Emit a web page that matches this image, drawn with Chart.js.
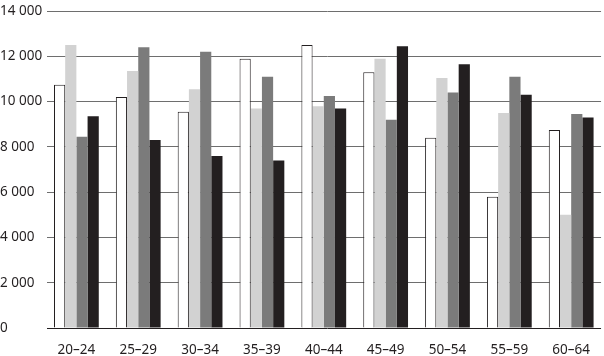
<!DOCTYPE html>
<html>
<head>
<meta charset="utf-8">
<script src="https://cdn.jsdelivr.net/npm/chart.js@4/dist/chart.umd.min.js"></script>
<style>
  html, body { margin: 0; padding: 0; background: #fff; }
  #wrap { width: 604px; height: 356px; position: relative; }
</style>
</head>
<body>
<div id="wrap"><canvas id="c"></canvas></div>
<script>
// Categories (age groups)
const categories = ['20–24', '25–29', '30–34', '35–39', '40–44', '45–49', '50–54', '55–59', '60–64'];

// Series values
const series1 = [10750, 10200, 9550, 11900, 12500, 11300, 8400, 5800, 8750];   // white
const series2 = [12500, 11350, 10550, 9700, 9800, 11900, 11050, 9500, 5000];  // light grey
const series3 = [8450, 12400, 12200, 11100, 10250, 9200, 10400, 11100, 9450]; // mid grey
const series4 = [9350, 8300, 7600, 7400, 9700, 12450, 11650, 10300, 9300];    // black

// Y tick labels
const yTickValues = [0, 2000, 4000, 6000, 8000, 10000, 12000, 14000];
const yTickLabels = ['0', '2 000', '4 000', '6 000', '8 000', '10 000', '12 000', '14 000'];

const FONT = "'Noto Sans', 'DejaVu Sans', sans-serif";

function pts(arr) { return arr.map((v, i) => ({ x: i, y: v })); }

const ds = [
  { data: pts(series1), backgroundColor: '#ffffff', borderColor: '#231f20', borderWidth: 1 },
  { data: pts(series2), backgroundColor: '#d2d2d2', borderWidth: 0 },
  { data: pts(series3), backgroundColor: '#7b7b7b', borderWidth: 0 },
  { data: pts(series4), backgroundColor: '#231f20', borderWidth: 0 }
].map(d => Object.assign({ categoryPercentage: 0.724, barPercentage: 1.0, borderSkipped: 'start' }, d));

new Chart(document.getElementById('c'), {
  type: 'bar',
  data: { datasets: ds },
  options: {
    responsive: true,
    maintainAspectRatio: false,
    animation: false,
    layout: { padding: { left: 0, right: 0, top: 6, bottom: 0 } },
    plugins: { legend: { display: false }, tooltip: { enabled: false } },
    scales: {
      x: {
        type: 'linear',
        offset: false,
        min: -0.362,
        max: 8.483,
        grid: { display: false, drawTicks: false },
        border: { display: false },
        ticks: {
          stepSize: 1,
          includeBounds: false,
          autoSkip: false,
          maxRotation: 0,
          padding: 14,
          color: '#231f20',
          font: { family: FONT, size: 13.5 },
          callback: (v) => Number.isInteger(v) && categories[v] !== undefined ? categories[v] : ''
        },
        afterFit: (s) => { s.height = 28; }
      },
      y: {
        min: 0,
        max: 14000,
        afterBuildTicks: (s) => { s.ticks = yTickValues.map(v => ({ value: v })); },
        grid: {
          color: (ctx) => ctx.tick && ctx.tick.value === 0 ? '#231f20' : '#6e6e6e',
          lineWidth: 1,
          tickLength: 7,
          drawTicks: true
        },
        border: { display: false },
        ticks: {
          crossAlign: 'far',
          color: '#231f20',
          font: { family: FONT, size: 13.5 },
          callback: (v) => { const i = yTickValues.indexOf(v); return i >= 0 ? yTickLabels[i] : ''; }
        },
        afterFit: (s) => { s.width = 54; }
      }
    }
  }
});
</script>
</body>
</html>
